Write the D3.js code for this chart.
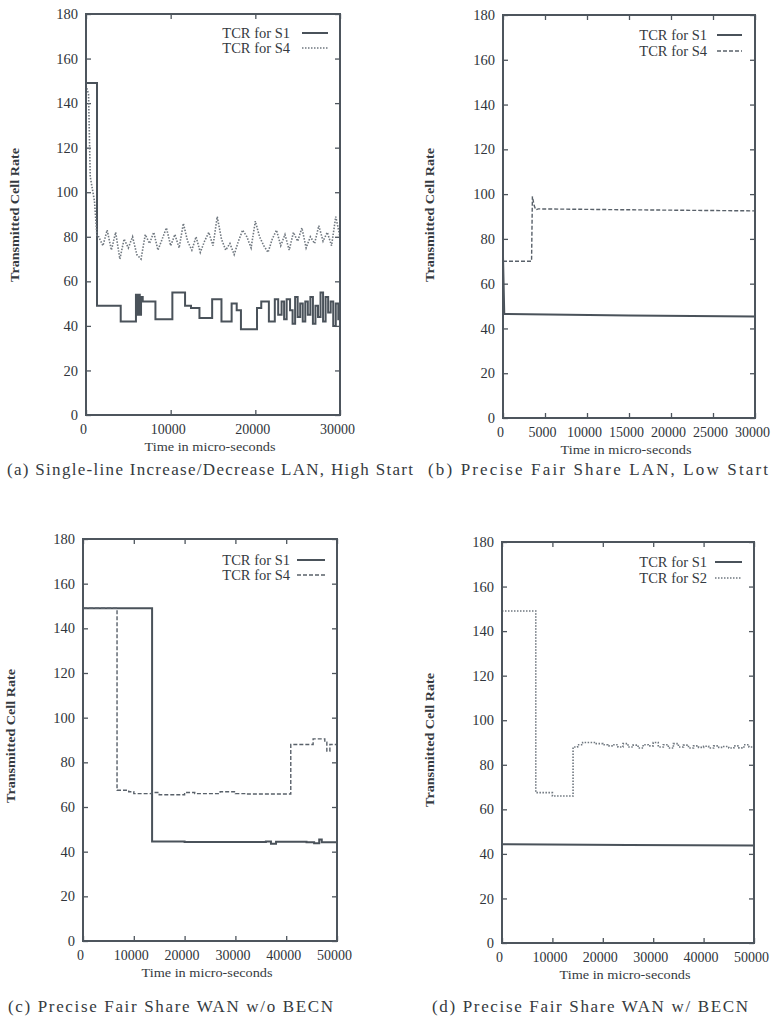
<!DOCTYPE html>
<html>
<head>
<meta charset="utf-8">
<script src="https://cdn.jsdelivr.net/npm/d3@7"></script>
<style>
  body { margin: 0; background: #fff; }
  svg { display: block; }
  text { font-family: "Liberation Serif", "DejaVu Serif", serif; fill: #353a40; }
  .axis path { display: none; }
  .axis line { stroke: #4d555d; stroke-width: 1.3; }
  .axis text { fill: #30353b; }
</style>
</head>
<body>
<div id="app"></div>
<script>
const width = 771
    , height = 1022;

// ---- data ----
const rateTicks = [0, 20, 40, 60, 80, 100, 120, 140, 160, 180];
const timeTicks30k = [0, 10000, 20000, 30000];
const timeTicks30kFine = [0, 5000, 10000, 15000, 20000, 25000, 30000];
const timeTicks50k = [0, 10000, 20000, 30000, 40000, 50000];

const captions = [
  "(a) Single-line Increase/Decrease LAN, High Start",
  "(b) Precise Fair Share LAN, Low Start",
  "(c) Precise Fair Share WAN w/o BECN",
  "(d) Precise Fair Share WAN w/ BECN"
];

// (a) [time, rate]
const a_s1 = [[0,149],[1300,49],[4100,42],[5900,54],[6050,45],[6200,54],[6350,45],[6500,53],[6700,51],
  [8200,43],[10200,55],[11700,49],[12400,48],[13400,43.5],[14900,52],[16000,42],[17200,50],[17800,47],
  [18300,38.5],[20200,48],[20700,51],[21600,42],[22300,52],[22700,45],[23100,51],[23400,43],[23700,52],
  [24100,47],[24400,41],[24700,53],[25000,44],[25300,50],[25600,42],[25900,51],[26200,45],[26500,53],
  [26800,41],[27100,49],[27400,44],[27700,55],[28000,42],[28300,53],[28600,46],[28900,51],[29200,40],
  [29500,50],[29800,43],[30000,43]];
const a_s4 = [[0,148],[300,144],[500,107],[1000,96],[1300,80],[1500,80],[2000,76],[2500,83],[3000,74],
  [3500,82],[4000,70],[4500,79],[5000,75],[5500,80],[6000,72],[6500,70],[7000,81],[7500,77],[8000,82],
  [8500,74],[9000,79],[9500,84],[10000,76],[10500,81],[11000,75],[11500,86],[12000,78],[12500,74],
  [13000,80],[13500,73],[14000,78],[14500,82],[15000,76],[15500,89],[16000,79],[16500,74],[17000,77],
  [17500,72],[18000,78],[18500,83],[19000,80],[19500,75],[20000,87],[20500,80],[21000,76],[21500,73],
  [22000,79],[22500,83],[23000,76],[23500,81],[24000,74],[24500,82],[25000,78],[25500,84],[26000,75],
  [26500,80],[27000,77],[27500,85],[28000,78],[28500,82],[29000,76],[29500,89],[30000,80]];

// (b)
const b_s1 = [[0,72],[150,46.5],[15000,45.8],[30000,45.3]];
const b_s4 = [[0,70],[3400,70],[3500,99],[3700,95],[3900,93],[4200,93.4],[15000,93],[30000,92.5]];

// (c)
const c_s1 = [[0,149],[13600,44.6],[20000,44.3],[36000,44.5],[37000,43.6],[38000,44.4],[44000,44.2],
  [45500,43.8],[46500,45.5],[47000,44.2],[50000,44.5]];
const c_s4 = [[0,149],[6700,67.5],[9000,66.8],[10000,66],[13500,66.5],[15000,65.5],[20000,66.5],
  [22000,66],[27000,66.8],[30000,66],[32000,65.8],[40900,88],[45300,90.5],[47600,89],[48000,85],
  [48600,88],[50000,88]];

// (d)
const d_s1 = [[0,44.3],[25000,44],[50000,43.8]];
const d_s2 = [[0,149],[6700,67.5],[10000,66],[14100,88],[15000,89],[16000,90],[18500,89.5],[20000,89],
  [21000,88.5],[22000,89],[23000,88],[24000,89.5],[25000,88],[26000,88.8],[27000,87.5],[28000,89],
  [29000,88.5],[30000,90],[31000,88],[32000,89],[33000,87.5],[34000,89.5],[35000,88],[36000,88.8],
  [37000,87.5],[38000,88.5],[39000,87.8],[40000,88.3],[41000,87.5],[42000,88.5],[43000,87.8],
  [44000,88.2],[45000,87.5],[46000,88.5],[47000,87.6],[48000,89],[49000,88],[50000,88.5]];

// ---- panel layout ----
const panels = [
  { box: {l: 86, t: 14, r: 340, b: 415}, xMax: 30000, xTicks: timeTicks30k,
    series: [
      {name: "TCR for S1", data: a_s1, curve: d3.curveStepAfter, style: "solid"},
      {name: "TCR for S4", data: a_s4, curve: d3.curveLinear, style: "dot"}],
    legend: {x: 290, y: [33, 48], sx: [302, 328]},
    yTitle: {x: 15, y: 215}, caption: {text: captions[0], x0: 7, x1: 413, y: 470}},
  { box: {l: 503, t: 15, r: 755, b: 418}, xMax: 30000, xTicks: timeTicks30kFine,
    series: [
      {name: "TCR for S1", data: b_s1, curve: d3.curveLinear, style: "solid"},
      {name: "TCR for S4", data: b_s4, curve: d3.curveLinear, style: "dash"}],
    legend: {x: 707, y: [35, 51], sx: [717, 742]},
    yTitle: {x: 430, y: 215}, caption: {text: captions[1], x0: 428, x1: 768, y: 470}},
  { box: {l: 83, t: 539, r: 337, b: 941}, xMax: 50000, xTicks: timeTicks50k,
    series: [
      {name: "TCR for S1", data: c_s1, curve: d3.curveStepAfter, style: "solid"},
      {name: "TCR for S4", data: c_s4, curve: d3.curveStepAfter, style: "dash"}],
    legend: {x: 290, y: [560, 575], sx: [297, 325]},
    yTitle: {x: 11, y: 736}, caption: {text: captions[2], x0: 8, x1: 333, y: 1007}},
  { box: {l: 502, t: 542, r: 754, b: 943}, xMax: 50000, xTicks: timeTicks50k,
    series: [
      {name: "TCR for S1", data: d_s1, curve: d3.curveLinear, style: "solid"},
      {name: "TCR for S2", data: d_s2, curve: d3.curveStepAfter, style: "dot"}],
    legend: {x: 707, y: [562, 578], sx: [715, 742]},
    yTitle: {x: 430, y: 740}, caption: {text: captions[3], x0: 432, x1: 748, y: 1007}}
];

const styles = {
  solid: {stroke: "#4a525a", width: 2, dash: null},
  dot:   {stroke: "#6f777f", width: 1.6, dash: "1.5,1.5"},
  dash:  {stroke: "#59616a", width: 1.4, dash: "4,2"}
};

const svg = d3.select("#app").append("svg")
    .attr("width", width)
    .attr("height", height);

panels.forEach(p => {
  const { box } = p;
  const x = d3.scaleLinear().domain([0, p.xMax]).range([box.l, box.r]);
  const y = d3.scaleLinear().domain([0, 180]).range([box.b, box.t]);
  const g = svg.append("g");

  // axes, gnuplot style: ticks inside, mirrored on top/right
  g.append("g").attr("class", "axis")
      .attr("transform", `translate(0,${box.b})`)
      .call(d3.axisBottom(x).tickValues(p.xTicks).tickSizeInner(-5).tickSizeOuter(0).tickPadding(9).tickFormat(d3.format("d")))
    .selectAll("text")
      .attr("dx", -3)
      .style("font-size", "14px");
  g.append("g").attr("class", "axis")
      .attr("transform", `translate(0,${box.t})`)
      .call(d3.axisTop(x).tickValues(p.xTicks).tickSizeInner(-5).tickSizeOuter(0).tickFormat(""));
  g.append("g").attr("class", "axis")
      .attr("transform", `translate(${box.l},0)`)
      .call(d3.axisLeft(y).tickValues(rateTicks).tickSizeInner(-5).tickSizeOuter(0).tickPadding(8))
    .selectAll("text")
      .style("font-size", "14.5px");
  g.append("g").attr("class", "axis")
      .attr("transform", `translate(${box.r},0)`)
      .call(d3.axisRight(y).tickValues(rateTicks).tickSizeInner(-5).tickSizeOuter(0).tickFormat(""));

  // series
  p.series.forEach((s, i) => {
    const st = styles[s.style];
    const line = d3.line()
        .x(d => x(d[0]))
        .y(d => y(d[1]))
        .curve(s.curve);
    g.append("path")
        .datum(s.data)
        .attr("d", line)
        .attr("fill", "none")
        .attr("stroke", st.stroke)
        .attr("stroke-width", st.width)
        .attr("stroke-dasharray", st.dash);

    // legend
    g.append("text")
        .attr("x", p.legend.x)
        .attr("y", p.legend.y[i] + 5)
        .attr("text-anchor", "end")
        .style("font-size", "14.5px")
        .text(s.name);
    g.append("line")
        .attr("x1", p.legend.sx[0]).attr("x2", p.legend.sx[1])
        .attr("y1", p.legend.y[i]).attr("y2", p.legend.y[i])
        .attr("stroke", st.stroke)
        .attr("stroke-width", st.width)
        .attr("stroke-dasharray", st.dash);
  });

  // frame
  g.append("rect")
      .attr("x", box.l).attr("y", box.t)
      .attr("width", box.r - box.l).attr("height", box.b - box.t)
      .attr("fill", "none")
      .attr("stroke", "#4d555d")
      .attr("stroke-width", 2);

  // titles
  g.append("text")
      .attr("transform", `translate(${p.yTitle.x + 4},${p.yTitle.y}) rotate(-90)`)
      .attr("text-anchor", "middle")
      .attr("textLength", 134)
      .attr("lengthAdjust", "spacingAndGlyphs")
      .style("font-size", "12px")
      .style("font-weight", "bold")
      .text("Transmitted Cell Rate");
  g.append("text")
      .attr("x", (box.l + box.r) / 2 - 3)
      .attr("y", box.b + 36)
      .attr("text-anchor", "middle")
      .attr("textLength", 131)
      .attr("lengthAdjust", "spacingAndGlyphs")
      .style("font-size", "13px")
      .text("Time in micro-seconds");
  g.append("text")
      .attr("x", p.caption.x0)
      .attr("y", p.caption.y + 5)
      .attr("textLength", p.caption.x1 - p.caption.x0)
      .attr("lengthAdjust", "spacing")
      .style("font-size", "17px")
      .text(p.caption.text);
});
</script>
</body>
</html>
